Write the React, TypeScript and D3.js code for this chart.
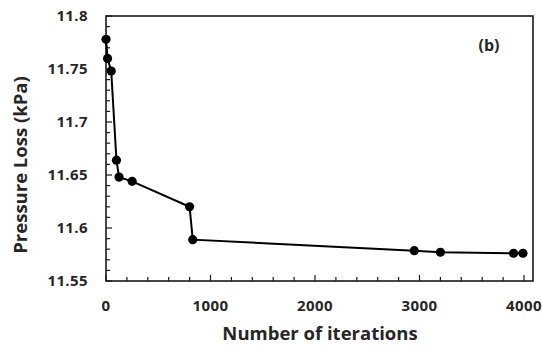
import React from 'react'
import * as d3 from 'd3'

// Pressure loss vs. number of iterations
const iterations = [0, 15, 50, 100, 125, 250, 800, 830, 2950, 3200, 3900, 3990]
const pressureLoss = [11.778, 11.760, 11.748, 11.664, 11.648, 11.644, 11.620, 11.589, 11.5786, 11.5771, 11.5762, 11.5762]
const xTicks = [0, 1000, 2000, 3000, 4000]
const yTicks = [11.55, 11.6, 11.65, 11.7, 11.75, 11.8]

const width = 542
const height = 347
const margin = { top: 16, right: 9, bottom: 66, left: 106 }
const font = '"Open Sans", Lato, sans-serif'
const ink = '#262626'

export default function App() {
  const left = margin.left
  const right = width - margin.right
  const top = margin.top
  const bottom = height - margin.bottom

  const x = d3.scaleLinear().domain([0, 4000]).range([left, 524])
  const y = d3.scaleLinear().domain([11.55, 11.8]).range([bottom, top])

  const points = iterations.map((it, i) => ({ it, p: pressureLoss[i] }))
  const line = d3.line<{ it: number; p: number }>()
    .x(d => x(d.it))
    .y(d => y(d.p))

  // minor ticks every 200 iterations / 0.01 kPa, drawn inside
  const xMinor = d3.range(0, 4001, 200)
  const yMinor = d3.range(0, 26).map(i => 11.55 + i * 0.01)

  return (
    <svg width={width} height={height} style={{ position: 'absolute', left: 0, top: 0, background: '#fff' }}>
      <rect x={left} y={top} width={right - left} height={bottom - top}
        fill="none" stroke="#1a1a1a" strokeWidth={1.6} />

      {xMinor.map(t => (
        <line key={'xm' + t} x1={x(t)} x2={x(t)} y1={bottom}
          y2={bottom - (t % 1000 === 0 ? 6 : 4)} stroke="#1a1a1a" strokeWidth={1.2} />
      ))}
      {yMinor.map((t, i) => (
        <line key={'ym' + i} x1={left} x2={left + (i % 5 === 0 ? 6 : 4)} y1={y(t)} y2={y(t)}
          stroke="#1a1a1a" strokeWidth={1.2} />
      ))}

      {xTicks.map(t => (
        <text key={'xt' + t} x={x(t)} y={311} textAnchor="middle" letterSpacing={0.4}
          fontFamily={font} fontWeight={700} fontSize={15} fill={ink}>{t}</text>
      ))}
      {yTicks.map(t => (
        <text key={'yt' + t} x={88} y={y(t) + 5} textAnchor="end" letterSpacing={0.4}
          fontFamily={font} fontWeight={700} fontSize={15} fill={ink}>{String(t)}</text>
      ))}

      <path d={line(points) || ''} fill="none" stroke="#000" strokeWidth={2} />
      {points.map((d, i) => (
        <circle key={'pt' + i} cx={x(d.it)} cy={y(d.p)} r={4.6} fill="#000" />
      ))}

      <text x={489} y={51} textAnchor="middle" fontFamily={font} fontWeight={700}
        fontSize={16} fill={ink}>(b)</text>

      <text x={320} y={340} textAnchor="middle" fontFamily={font} fontWeight={700}
        fontSize={18.5} fill={ink}>Number of iterations</text>
      <text transform={`translate(27,165) rotate(-90)`} textAnchor="middle" fontFamily={font}
        fontWeight={700} fontSize={18.5} fill={ink}>Pressure Loss (kPa)</text>
    </svg>
  )
}
